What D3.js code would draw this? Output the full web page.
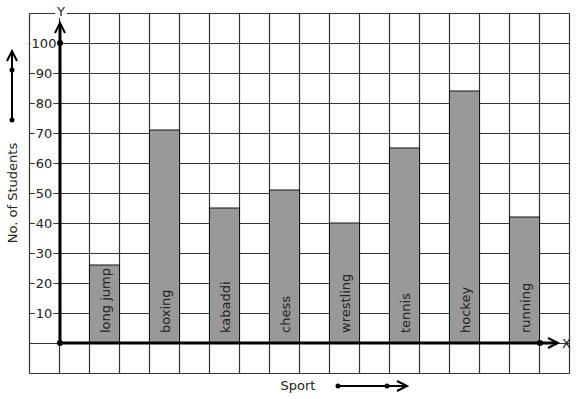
<!DOCTYPE html>
<html>
<head>
<meta charset="utf-8">
<script src="https://cdn.jsdelivr.net/npm/d3@7"></script>
<style>
  body { margin: 0; background: #fff; }
  text { font-family: "DejaVu Sans", sans-serif; font-size: 13px; fill: #222; }
</style>
</head>
<body>
<div id="chart"></div>
<script>
const width = 577,
  height = 399;

// data
const sports = ["long jump", "boxing", "kabaddi", "chess", "wrestling", "tennis", "hockey", "running"];
const students = [26, 71, 45, 51, 40, 65, 84, 42];
const yTicks = [10, 20, 30, 40, 50, 60, 70, 80, 90, 100];

const xScale = d3.scaleBand()
  .domain(sports)
  .range([60, 570])
  .paddingInner(0.5)
  .paddingOuter(0.5);

const yScale = d3.scaleLinear()
  .domain([0, 100])
  .range([343, 43]);

const svg = d3.select("#chart")
  .append("svg")
  .attr("width", width)
  .attr("height", height);

// graph paper grid
const gx = d3.range(30, 571, 30);
const gy = d3.range(-10, 111, 10).map(v => yScale(v));

svg.append("g")
  .selectAll("line")
  .data(gx)
  .join("line")
  .attr("x1", d => d - 0.5).attr("x2", d => d - 0.5)
  .attr("y1", d3.min(gy) + 0.5).attr("y2", d3.max(gy) + 0.5)
  .attr("stroke", "#333").attr("stroke-width", 1.2);

svg.append("g")
  .selectAll("line")
  .data(gy)
  .join("line")
  .attr("y1", d => d + 0.5).attr("y2", d => d + 0.5)
  .attr("x1", 29.5).attr("x2", 569.5)
  .attr("stroke", "#333").attr("stroke-width", 1.2);

// bars
svg.append("g")
  .selectAll("rect")
  .data(sports)
  .join("rect")
  .attr("x", d => xScale(d) - 0.5)
  .attr("y", (d, i) => yScale(students[i]))
  .attr("width", xScale.bandwidth())
  .attr("height", (d, i) => yScale(0) - yScale(students[i]))
  .attr("fill", "#999")
  .attr("stroke", "#111")
  .attr("stroke-width", 1);

svg.append("g")
  .selectAll("text")
  .data(sports)
  .join("text")
  .attr("transform", d => `translate(${xScale(d) + xScale.bandwidth() / 2},${yScale(0) - 10}) rotate(-90)`)
  .attr("dominant-baseline", "central")
  .text(d => d);

// y tick labels with white background
const tickG = svg.append("g")
  .selectAll("g")
  .data(yTicks)
  .join("g")
  .attr("transform", d => `translate(44,${yScale(d)})`);

tickG.each(function(d) {
  const g = d3.select(this);
  const t = g.append("text")
    .attr("text-anchor", "middle")
    .attr("dominant-baseline", "central")
    .text(d);
  const w = t.node().getComputedTextLength();
  g.insert("rect", "text")
    .attr("x", -w / 2 - 1).attr("y", -7)
    .attr("width", w + 2).attr("height", 14)
    .attr("fill", "#fff");
});

// axes with arrows
function arrowHead(g, x, y, dir) {
  const a = 10, b = 5;
  let pts;
  if (dir === "up") pts = [[x - b, y + a], [x, y], [x + b, y + a]];
  else pts = [[x - a, y - b], [x, y], [x - a, y + b]];
  g.append("path")
    .attr("d", d3.line()(pts))
    .attr("fill", "none")
    .attr("stroke", "#000")
    .attr("stroke-width", 2);
}

const axes = svg.append("g");
axes.append("line")
  .attr("x1", 60).attr("x2", 60)
  .attr("y1", yScale(0)).attr("y2", 24)
  .attr("stroke", "#000").attr("stroke-width", 3);
arrowHead(axes, 60, 23, "up");
axes.append("line")
  .attr("x1", 60).attr("x2", 557)
  .attr("y1", yScale(0)).attr("y2", yScale(0))
  .attr("stroke", "#000").attr("stroke-width", 3);
arrowHead(axes, 558, yScale(0), "right");

axes.selectAll("circle")
  .data([[60, yScale(0)], [60, yScale(100)], [540, yScale(0)]])
  .join("circle")
  .attr("cx", d => d[0]).attr("cy", d => d[1])
  .attr("r", 3).attr("fill", "#000");

axes.append("rect")
  .attr("x", 55).attr("y", 4).attr("width", 12).attr("height", 14).attr("fill", "#fff");
axes.append("text")
  .attr("x", 61).attr("y", 11)
  .attr("text-anchor", "middle").attr("dominant-baseline", "central")
  .text("Y");
axes.append("text")
  .attr("x", 562).attr("y", yScale(0))
  .attr("dominant-baseline", "central")
  .text("X");

// axis titles with little arrows
svg.append("text")
  .attr("transform", "translate(12,193) rotate(-90)")
  .attr("text-anchor", "middle")
  .attr("dominant-baseline", "central")
  .text("No. of Students");

const leg = svg.append("g");
leg.append("line")
  .attr("x1", 12).attr("x2", 12).attr("y1", 120).attr("y2", 52)
  .attr("stroke", "#000").attr("stroke-width", 2);
arrowHead(leg, 12, 51, "up");
leg.selectAll("circle")
  .data([[12, 120], [12, 70], [338, 386], [387, 386]])
  .join("circle")
  .attr("cx", d => d[0]).attr("cy", d => d[1])
  .attr("r", 2.5).attr("fill", "#000");

svg.append("text")
  .attr("x", 298).attr("y", 385)
  .attr("text-anchor", "middle")
  .attr("dominant-baseline", "central")
  .text("Sport");
leg.append("line")
  .attr("x1", 338).attr("x2", 406).attr("y1", 386).attr("y2", 386)
  .attr("stroke", "#000").attr("stroke-width", 2);
arrowHead(leg, 407, 386, "right");
</script>
</body>
</html>
